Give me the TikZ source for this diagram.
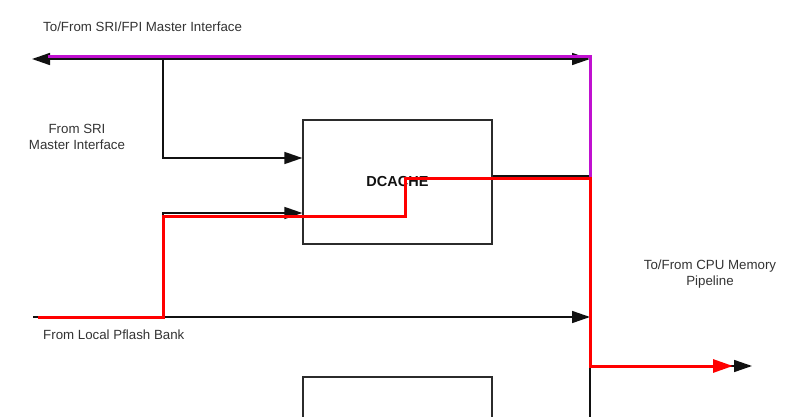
\documentclass[tikz,border=0pt]{standalone}
\usepackage{fontspec}
\setmainfont{Liberation Sans}
\usetikzlibrary{arrows.meta,positioning}
\definecolor{ink}{HTML}{111111}
\definecolor{txt}{HTML}{333333}
\definecolor{rahmen}{HTML}{2B2B2B}
\definecolor{pfad}{HTML}{FF0000}
\definecolor{lila}{HTML}{C010D0}
\newcommand{\lbl}{\fontsize{13.3}{16}\selectfont}

\begin{document}
\begin{tikzpicture}[x=1pt,y=-1pt,
  block/.style={draw=rahmen,line width=1.3pt,minimum width=189pt,minimum height=124pt,inner sep=0,
    font=\fontsize{14.5}{17}\selectfont\bfseries,text=ink},
  bus/.style={ink,line width=1.6pt},
  pfeil/.style={-{Triangle[length=18pt,width=12pt]}},
  weg/.style={pfad,line width=3pt},
  rotpfeil/.style={-{Triangle[length=20pt,width=13pt]}},
  notiz/.style={inner sep=0,font=\lbl,text=txt,align=center}]
\useasboundingbox (0,0) rectangle (792,417);
% blocks
\node[block] (dcache) at (397.5,182) {DCACHE};
\node[block] (lower) at (397.5,439) {};
% end points
\coordinate (sriL) at (32,59);
\coordinate (kn) at (590,59);
\coordinate (tap) at (163,59);
\coordinate (pfl) at (33,317);
\coordinate (split) at (163,317);
\coordinate (cpuOut) at (752,366);
\coordinate (rot1) at (405,216);
\coordinate (rot2) at (405,178);
% black buses
\draw[bus,{Triangle[length=18pt,width=12pt]}-{Triangle[length=18pt,width=12pt]}] (sriL) -- (kn);
\draw[bus] (kn) -- ([yshift=-20pt]kn |- lower.south);
\draw[bus,pfeil] (tap) |- ([yshift=24pt]dcache.west);
\draw[bus,pfeil] (split) |- ([yshift=-31pt]dcache.west);
\draw[bus,pfeil] (pfl) -- (kn |- pfl);
\draw[bus] ([yshift=6pt]dcache.east) -- (kn |- 0,176);
\draw[bus,pfeil] (kn |- cpuOut) -- (cpuOut);
% highlighted paths
\draw[lila,line width=3pt] ([shift={(16pt,2.5pt)}]sriL) -- ([yshift=2.5pt]kn) -- (kn |- rot2);
\draw[weg,rotpfeil] ([xshift=5pt]pfl) -- (split) |- (rot1) -- (rot2) -| (kn |- cpuOut) -- ([xshift=-19pt]cpuOut);
% labels
\node[notiz,anchor=base west] (tsri) at (43,32) {To/From SRI/FPI Master Interface};
\node[notiz] (fsri) at (77,137) {From SRI\\Master Interface};
\node[notiz,anchor=base west] (fpfl) at (43,339) {From Local Pflash Bank};
\node[notiz] (tcpu) at (710,274) {To/From CPU Memory\\Pipeline};
\end{tikzpicture}
\end{document}
